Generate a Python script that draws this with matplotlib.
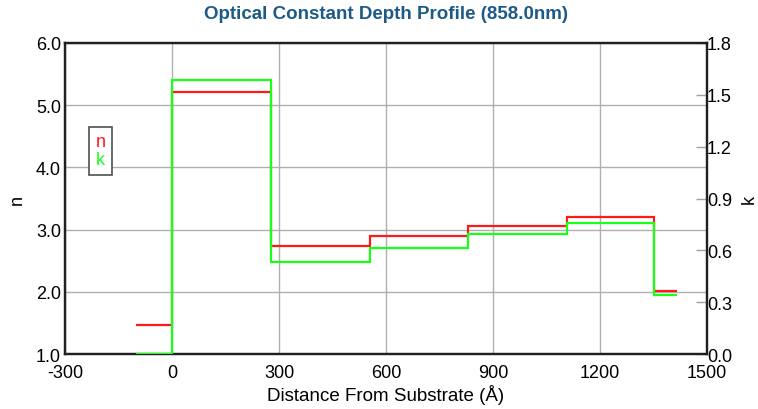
import matplotlib
matplotlib.use('Agg')
import matplotlib.pyplot as plt
from matplotlib.lines import Line2D

# layer boundaries (Angstrom) and optical constants per layer
edges = [-100, 0, 277, 554, 831, 1108, 1352, 1415]
n_vals = [1.47, 5.22, 2.73, 2.89, 3.05, 3.21, 2.02]
k_vals = [0.0, 1.587, 0.531, 0.613, 0.693, 0.760, 0.343]

x_ticks = [-300, 0, 300, 600, 900, 1200, 1500]
n_ticks = [1.0, 2.0, 3.0, 4.0, 5.0, 6.0]
k_ticks = [0.0, 0.3, 0.6, 0.9, 1.2, 1.5, 1.8]

plt.rcParams['font.family'] = ['Liberation Sans', 'DejaVu Sans']
plt.rcParams['axes.unicode_minus'] = False

fig = plt.figure(figsize=(7.58, 4.10), dpi=100)
ax = fig.add_axes([0.0858, 0.1341, 0.8469, 0.7586])
ax2 = ax.twinx()

ax.stairs(n_vals, edges, baseline=None, color='#ff1a1a', lw=1.6, zorder=3)
ax2.stairs(k_vals, edges, baseline=None, color='#1aff1a', lw=1.6, zorder=3)

ax.set_xlim(-300, 1500)
ax.set_ylim(1.0, 6.0)
ax2.set_ylim(0.0, 1.8)
ax.set_xticks(x_ticks)
ax.set_yticks(n_ticks)
ax2.set_yticks(k_ticks)
ax.set_xticklabels([str(v) for v in x_ticks])
ax.set_yticklabels([f'{v:.1f}' for v in n_ticks])
ax2.set_yticklabels([f'{v:.1f}' for v in k_ticks])

ax.grid(True, color='#b0b0b0', lw=1.0)
ax.set_axisbelow(True)

ax.tick_params(axis='y', length=0, pad=3, labelsize=13)
ax.tick_params(axis='x', length=0, pad=7.5, labelsize=13)
ax2.tick_params(axis='y', direction='in', length=8, width=1, color='#a0a0a0',
                pad=0, labelsize=13)

for a in (ax, ax2):
    for s in a.spines.values():
        s.set_linewidth(1.6)
        s.set_color('#202020')

ax.set_xlabel('Distance From Substrate (Å)', fontsize=13.5, labelpad=1.5)
ax.set_ylabel('n', fontsize=13, labelpad=7)
ax2.set_ylabel('k', fontsize=13, labelpad=6)
ax.set_title('Optical Constant Depth Profile (858.0nm)', fontsize=13.5,
             fontweight='bold', color='#1d5b86', pad=18)

handles = [Line2D([], [], color='#ff1a1a'), Line2D([], [], color='#1aff1a')]
leg = ax2.legend(handles, ['n', 'k'], loc='upper left',
                 bbox_to_anchor=(0.0374, 0.730), handlelength=0,
                 handletextpad=0, labelcolor='linecolor', fontsize=13,
                 fancybox=False, framealpha=1, borderpad=0.35,
                 labelspacing=0.05, borderaxespad=0)
leg.get_frame().set_edgecolor('#505050')
leg.get_frame().set_linewidth(1.2)

fig.savefig('out.png', dpi=100)
